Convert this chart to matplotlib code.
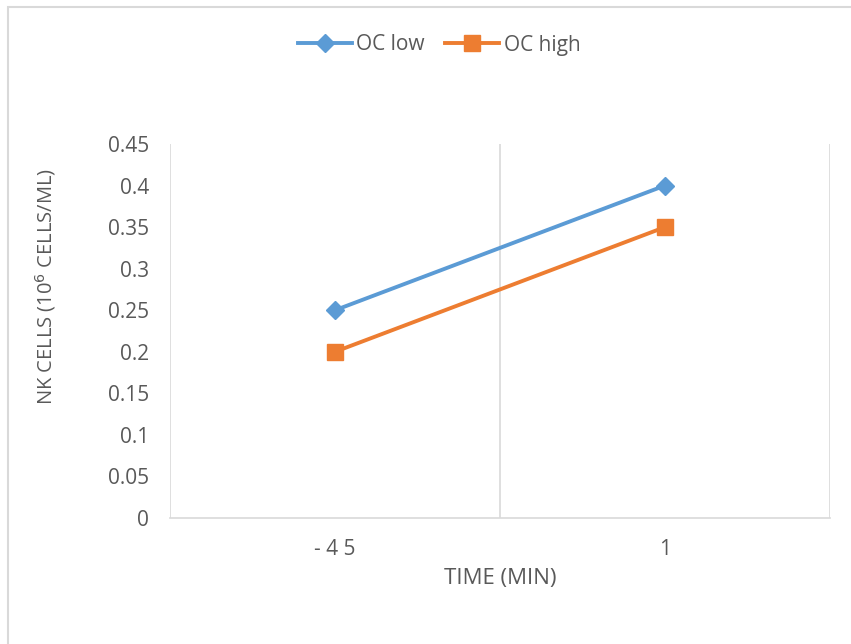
import matplotlib.pyplot as plt
from matplotlib.patches import Rectangle

plt.rcParams['font.family'] = ['Open Sans', 'DejaVu Sans']

times = ['-45', '1']
oc_low = [0.25, 0.40]
oc_high = [0.20, 0.35]
y_ticks = [0, 0.05, 0.1, 0.15, 0.2, 0.25, 0.3, 0.35, 0.4, 0.45]

grey = '#595959'
grid_c = '#d9d9d9'

fig = plt.figure(figsize=(8.51, 6.44), dpi=100)
ax = fig.add_axes([170 / 851, 1 - 518 / 644, 660 / 851, 374 / 644])

x = list(range(len(times)))
ax.plot(x, oc_low, color='#5B9BD5', lw=2.8, marker='D', ms=9, label='OC low')
ax.plot(x, oc_high, color='#ED7D31', lw=2.8, marker='s', ms=11, label='OC high')

ax.set_xlim(-0.5, len(times) - 0.5)
ax.set_ylim(0, 0.45)
ax.set_xticks(x)
ax.set_xticklabels([' '.join(t) for t in times])
ax.set_yticks(y_ticks)
ax.set_yticklabels(['%g' % v for v in y_ticks])

# category boundary gridlines
for b in [i - 0.5 for i in range(len(times) + 1)]:
    ax.axvline(b, color=grid_c, lw=1.2, zorder=0)

for s in ['top', 'right', 'left']:
    ax.spines[s].set_visible(False)
ax.spines['bottom'].set_color(grid_c)
ax.spines['bottom'].set_linewidth(1.2)
ax.tick_params(length=0, colors=grey, labelsize=15)
ax.tick_params(axis='y', pad=15)
ax.tick_params(axis='x', pad=15)

ax.set_xlabel('TIME (MIN)', color=grey, fontsize=16)
ax.xaxis.set_label_coords(0.5, -0.135)
ax.set_ylabel('NK CELLS (10$^6$ CELLS/ML)', color=grey, fontsize=14.5)
ax.yaxis.set_label_coords(-0.17, 0.62)

fig.legend(loc='center', bbox_to_anchor=(439 / 851, 1 - 45 / 644), ncol=2,
           frameon=False, fontsize=15, labelcolor=grey, handlelength=2.6,
           columnspacing=1.0, handletextpad=0.2)

fig.patches.append(Rectangle((8 / 851, -0.1), 1.2, 1 - 7 / 644 + 0.1,
                             transform=fig.transFigure, fill=False,
                             ec=grid_c, lw=1.5))

fig.savefig('out.png', dpi=100)
